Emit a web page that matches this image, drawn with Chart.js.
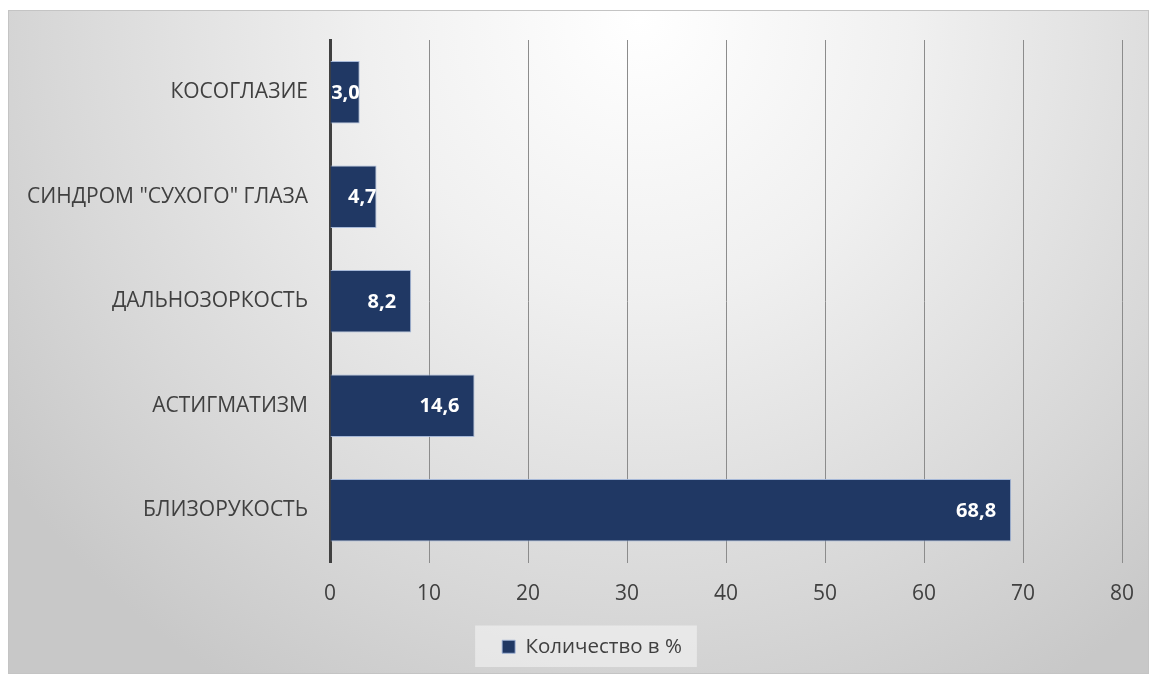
<!DOCTYPE html>
<html>
<head>
<meta charset="utf-8">
<script src="https://cdn.jsdelivr.net/npm/chart.js@4"></script>
<style>
html,body{margin:0;padding:0;background:#fff;}
#wrap{width:1150px;height:675px;position:relative;}
</style>
</head>
<body>
<div id="wrap"><canvas id="c" width="1150" height="675"></canvas></div>
<script>
const categories = ['КОСОГЛАЗИЕ', 'СИНДРОМ "СУХОГО" ГЛАЗА', 'ДАЛЬНОЗОРКОСТЬ', 'АСТИГМАТИЗМ', 'БЛИЗОРУКОСТЬ'];
const values = [3.0, 4.7, 8.2, 14.6, 68.8];
const seriesName = 'Количество в %';
const xMin = 0, xMax = 80, xStep = 10;

const FONT = '"Open Sans", "DejaVu Sans", sans-serif';
const TEXT = '#404040';
const LEGEND_SHIFT = 27;

const bgPlugin = {
  id: 'bgPlugin',
  afterLayout(chart) {
    const lg = chart.legend;
    if (lg) {
      lg.left += LEGEND_SHIFT;
      lg.right += LEGEND_SHIFT;
      (lg.legendHitBoxes || []).forEach(hb => { hb.left += LEGEND_SHIFT; });
    }
  },
  beforeDraw(chart) {
    const ctx = chart.ctx;
    ctx.save();
    ctx.fillStyle = '#ffffff';
    ctx.fillRect(0, 0, chart.width, chart.height);
    const x0 = 8, y0 = 10, x1 = 1149, y1 = 674;
    const g = ctx.createRadialGradient(640, 20, 0, 640, 20, 780);
    g.addColorStop(0, '#ffffff');
    g.addColorStop(0.35, '#f0f0f0');
    g.addColorStop(0.75, '#d8d8d8');
    g.addColorStop(1, '#c8c8c8');
    ctx.fillStyle = g;
    ctx.fillRect(x0, y0, x1 - x0, y1 - y0);
    ctx.strokeStyle = '#c4c4c4';
    ctx.lineWidth = 1;
    ctx.strokeRect(x0 + 0.5, y0 + 0.5, x1 - x0 - 1, y1 - y0 - 1);
    // legend backdrop
    const lg = chart.legend;
    if (lg && lg.legendHitBoxes && lg.legendHitBoxes.length) {
      const hb = lg.legendHitBoxes[0];
      const bx = hb.left - 27, bw = hb.width + 42;
      ctx.fillStyle = 'rgba(255,255,255,0.45)';
      ctx.fillRect(bx, lg.top, bw, lg.height);
    }
    ctx.restore();
  }
};

const labelPlugin = {
  id: 'labelPlugin',
  afterDatasetsDraw(chart) {
    const ctx = chart.ctx;
    const meta = chart.getDatasetMeta(0);
    ctx.save();
    ctx.font = 'bold 20px ' + FONT;
    ctx.fillStyle = '#ffffff';
    ctx.textAlign = 'right';
    ctx.textBaseline = 'middle';
    meta.data.forEach((bar, i) => {
      const txt = values[i].toFixed(1).replace('.', ',');
      const tw = ctx.measureText(txt).width;
      const start = bar.base, end = bar.x;
      let right = end - 15;
      if (right - tw < start + 12) right = end;
      ctx.fillText(txt, right, bar.y + 1);
    });
    ctx.restore();
  }
};

new Chart(document.getElementById('c'), {
  type: 'bar',
  data: {
    labels: categories,
    datasets: [{
      label: seriesName,
      data: values,
      backgroundColor: '#203864',
      borderColor: 'rgba(160,180,215,0.9)',
      borderWidth: 1,
      borderSkipped: 'start',
      categoryPercentage: 1,
      barPercentage: 0.6
    }]
  },
  options: {
    indexAxis: 'y',
    responsive: false,
    animation: false,
    devicePixelRatio: 1,
    layout: { padding: { left: 8, right: 28, top: 40, bottom: 8 } },
    scales: {
      x: {
        min: xMin, max: xMax,
        ticks: { stepSize: xStep, color: TEXT, font: { family: FONT, size: 21 }, padding: 0 },
        grid: { color: '#8c8c8c', lineWidth: 1, drawTicks: true, tickLength: 19, tickColor: 'rgba(0,0,0,0)' },
        border: { display: false },
        afterFit(s) { s.height = 63; }
      },
      y: {
        ticks: { color: TEXT, font: { family: FONT, size: 21 }, padding: 22 },
        grid: { display: false, drawTicks: false },
        border: { display: true, color: '#404040', width: 3 },
        afterFit(s) { s.width = 322; }
      }
    },
    plugins: {
      legend: {
        position: 'bottom',
        labels: { color: TEXT, font: { family: FONT, size: 20.5 }, boxWidth: 13, boxHeight: 13, padding: 11 }
      },
      tooltip: { enabled: false }
    }
  },
  plugins: [bgPlugin, labelPlugin]
});
</script>
</body>
</html>
